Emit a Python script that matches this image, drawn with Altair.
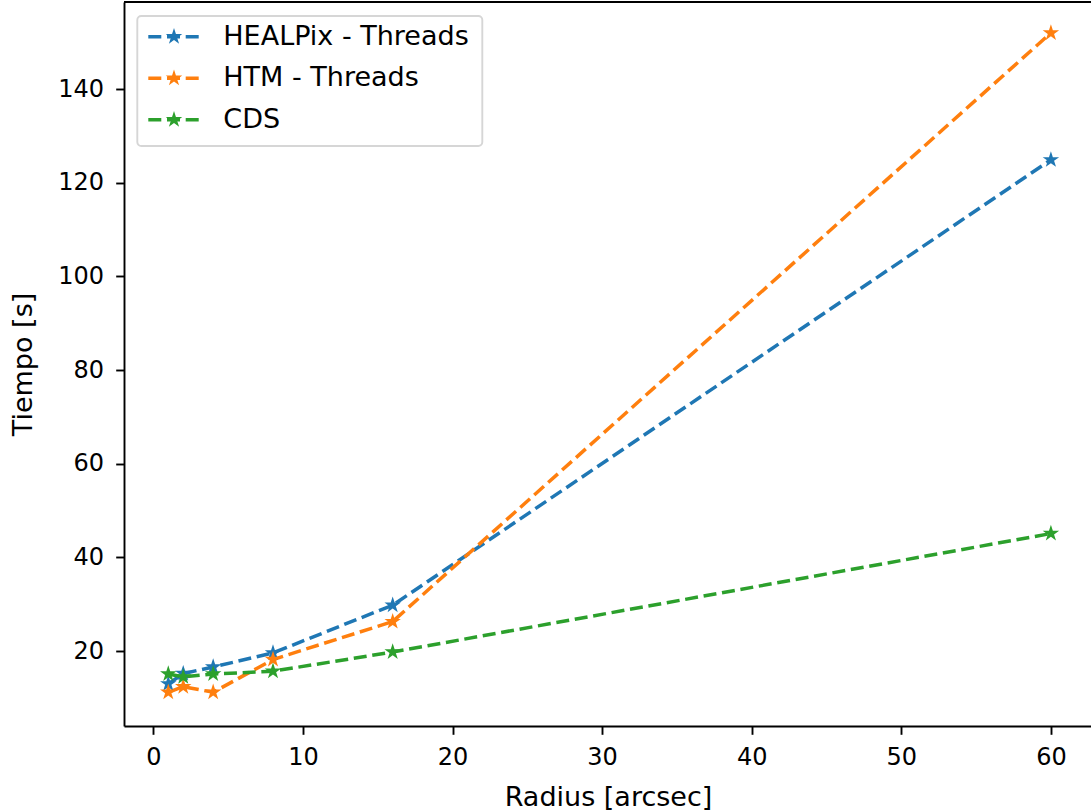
import altair as alt
import pandas as pd

# ---- data ----
radius = [1, 2, 4, 8, 16, 60]
healpix = [13.0, 15.2, 16.6, 19.6, 29.8, 124.9]
htm = [11.2, 12.4, 11.2, 18.2, 26.3, 152.0]
cds = [15.1, 14.5, 15.1, 15.7, 19.8, 45.1]

series_names = ["HEALPix - Threads", "HTM - Threads", "CDS"]
series_colors = ["#1f77b4", "#ff7f0e", "#2ca02c"]
series_values = [healpix, htm, cds]

x_ticks = [0, 10, 20, 30, 40, 50, 60]
y_ticks = [20, 40, 60, 80, 100, 120, 140]
x_domain = [-1.96, 62.68]
y_domain = [4.0, 158.6]

rows = []
for name, vals in zip(series_names, series_values):
    for r, v in zip(radius, vals):
        rows.append({"Radius": r, "Tiempo": v, "Serie": name})
df = pd.DataFrame(rows)
legend_df = pd.DataFrame({"Serie": series_names})

FONT = "DejaVu Sans"
FS_TICK = 24
FS_TEXT = 27
DASH = [13, 5.7]

# 5-pointed star (matplotlib '*' marker), unit outer radius
STAR = ("M0,-1L0.2245,-0.309L0.951,-0.309L0.363,0.118L0.588,0.809L0,0.382"
        "L-0.588,0.809L-0.363,0.118L-0.951,-0.309L-0.2245,-0.309Z")

color_scale = alt.Scale(domain=series_names, range=series_colors)

x_enc = alt.X(
    "Radius:Q",
    scale=alt.Scale(domain=x_domain, nice=False, zero=False),
    axis=alt.Axis(
        values=x_ticks,
        title="Radius [arcsec]",
        titleX=484,
        titleY=79.7,
        titleAlign="center",
        titleBaseline="alphabetic",
        labelBaseline="alphabetic",
        labelPadding=29.9,
        labelFontSize=FS_TICK,
    ),
)
y_enc = alt.Y(
    "Tiempo:Q",
    scale=alt.Scale(domain=y_domain, nice=False, zero=False),
    axis=alt.Axis(
        values=y_ticks,
        title="Tiempo [s]",
        titleX=-92.6,
        titleY=362,
        titleAlign="center",
        titleBaseline="alphabetic",
        labelPadding=12.2,
        labelFontSize=FS_TICK,
    ),
)

base = alt.Chart(df)

lines = base.mark_line(strokeDash=DASH, strokeWidth=3.5).encode(
    x=x_enc,
    y=y_enc,
    stroke=alt.Stroke("Serie:N", scale=color_scale, legend=None),
)

pts = base.mark_point(shape=STAR, filled=True, size=300, opacity=1).encode(
    x=x_enc,
    y=y_enc,
    color=alt.Color("Serie:N", scale=color_scale, legend=None),
)

top_spine = base.mark_rule(color="black", strokeWidth=1.9).encode(
    y=alt.datum(y_domain[1])
)

# ---- legend (upper left, matplotlib style) ----
leg_base = alt.Chart(legend_df)
legend_box = leg_base.transform_filter(alt.datum.Serie == series_names[0]).mark_rect(
    fill="white", stroke="#d6d6d6", strokeWidth=1.9, cornerRadius=4
).encode(
    x=alt.value(13.3), x2=alt.value(358.3), y=alt.value(14), y2=alt.value(144)
)

legend_layers = [legend_box]
row_y0, row_step = 34.7, 41.5
for i, (name, col) in enumerate(zip(series_names, series_colors)):
    one = leg_base.transform_filter(alt.datum.Serie == name)
    yy = row_y0 + row_step * i
    legend_layers.append(
        one.mark_rule(color=col, strokeWidth=3.5, strokeDash=DASH).encode(
            x=alt.value(24.3), x2=alt.value(78), y=alt.value(yy)
        )
    )
    legend_layers.append(
        one.mark_point(shape=STAR, filled=True, size=300, opacity=1, color=col).encode(
            x=alt.value(50), y=alt.value(yy)
        )
    )
    legend_layers.append(
        one.mark_text(
            align="left", baseline="middle", font=FONT, fontSize=FS_TEXT, color="black"
        ).encode(x=alt.value(99.3), y=alt.value(yy), text="Serie:N")
    )

chart = (
    alt.layer(lines, pts, top_spine, *legend_layers)
    .properties(
        width=967,
        height=724,
        padding={"left": 124, "top": 2, "right": 0, "bottom": 86},
        autosize=alt.AutoSizeParams(type="none"),
        background="white",
    )
    .configure_view(stroke=None)
    .configure_axis(
        grid=False,
        domainColor="black",
        domainWidth=1.9,
        tickColor="black",
        tickWidth=1.9,
        tickSize=8.3,
        labelFont=FONT,
        labelColor="black",
        titleFont=FONT,
        titleFontSize=FS_TEXT,
        titleFontWeight="normal",
        titleColor="black",
    )
)

chart.save("out.html", embed_options={"renderer": "svg", "actions": False})
